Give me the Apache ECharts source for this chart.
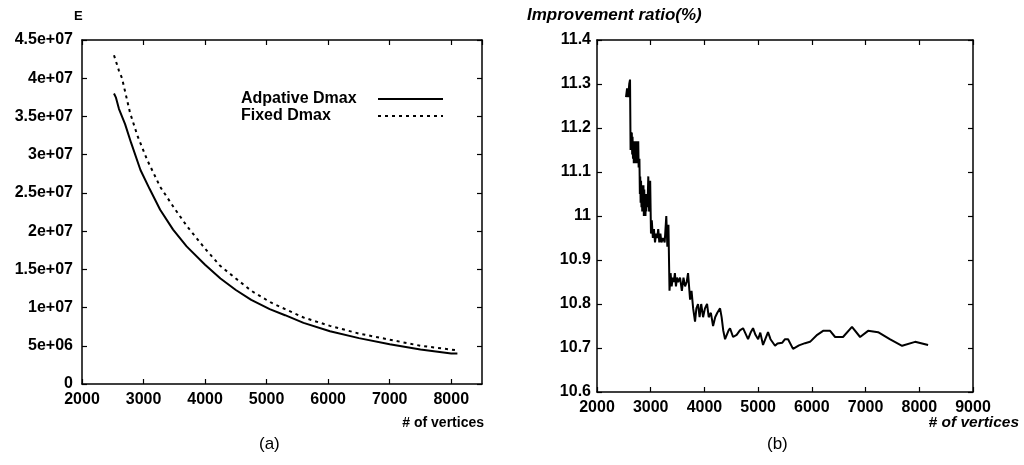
<!DOCTYPE html>
<html>
<head>
<meta charset="utf-8">
<script src="https://cdn.jsdelivr.net/npm/echarts@6/dist/echarts.min.js"></script>
<style>html,body{margin:0;padding:0;background:#fff}#c{width:1024px;height:465px}</style>
</head>
<body>
<div id="c"></div>
<script>
// ---- Data (a): E vs # of vertices ----
const adaptiveX = [2520,2550,2600,2700,2800,2950,3100,3270,3480,3700,4000,4250,4500,4750,5050,5300,5600,6030,6500,7000,7500,8000,8100];
const adaptiveE = [38.0e6,37.5e6,36.0e6,34.0e6,31.5e6,28.0e6,25.5e6,22.8e6,20.2e6,18.0e6,15.6e6,13.8e6,12.3e6,11.0e6,9.8e6,9.0e6,8.0e6,6.9e6,6.0e6,5.2e6,4.5e6,4.0e6,4.0e6];
const fixedX = [2520,2600,2650,2780,2900,3060,3270,3500,3710,4000,4240,4500,4750,5060,5300,5600,6030,6500,7000,7500,8000,8100];
const fixedE = [43.0e6,41.0e6,40.0e6,35.5e6,32.5e6,29.3e6,25.8e6,23.0e6,20.6e6,17.7e6,15.5e6,13.8e6,12.2e6,10.7e6,9.8e6,8.7e6,7.6e6,6.6e6,5.8e6,5.0e6,4.5e6,4.4e6];

// ---- Data (b): Improvement ratio (%) vs # of vertices ----
const ratioX = [2540,2560,2580,2600,2615,2625,2632,2640,2648,2655,2662,2670,2678,2685,2692,2700,2708,2715,2722,2730,2738,2745,2752,2760,2768,2775,2790,2798,2805,2812,2820,2828,2835,2842,2850,2858,2865,2872,2880,2888,2895,2902,2910,2918,2925,2940,2955,2970,2990,3005,3020,3040,3060,3080,3100,3120,3140,3160,3180,3200,3230,3260,3290,3310,3330,3350,3370,3390,3410,3430,3450,3470,3490,3510,3546,3580,3610,3640,3670,3695,3733,3760,3790,3825,3850,3881,3910,3940,3975,4010,4049,4080,4120,4161,4200,4240,4291,4320,4350,4384,4420,4450,4477,4533,4600,4660,4719,4812,4860,4905,4950,5000,5040,5091,5184,5230,5315,5360,5450,5500,5557,5650,5760,5873,5966,6100,6209,6340,6433,6580,6747,6898,7047,7233,7450,7680,7922,8164];
const ratioY = [11.27,11.29,11.27,11.30,11.31,11.15,11.19,11.16,11.19,11.14,11.18,11.13,11.17,11.12,11.16,11.13,11.17,11.12,11.16,11.13,11.17,11.12,11.16,11.12,11.17,11.11,11.13,11.05,11.09,11.03,11.08,11.02,11.07,11.01,11.05,11.02,11.07,11.00,11.06,11.01,11.05,11.00,11.04,11.01,11.05,11.02,11.09,11.01,11.08,10.96,10.99,10.95,10.97,10.94,10.96,10.95,10.97,10.94,10.96,10.94,10.95,10.94,11.00,10.93,10.98,10.83,10.87,10.84,10.86,10.85,10.87,10.84,10.86,10.85,10.86,10.83,10.86,10.84,10.85,10.87,10.81,10.83,10.79,10.76,10.79,10.80,10.77,10.80,10.77,10.79,10.80,10.77,10.78,10.75,10.77,10.78,10.79,10.77,10.74,10.72,10.72,10.74,10.745,10.725,10.73,10.74,10.745,10.72,10.735,10.745,10.73,10.72,10.735,10.707,10.736,10.72,10.705,10.71,10.712,10.72,10.72,10.698,10.706,10.711,10.714,10.73,10.739,10.739,10.725,10.725,10.748,10.725,10.739,10.736,10.72,10.705,10.714,10.707];

// ---- Tick labels ----
const xTicksA = [2000,3000,4000,5000,6000,7000,8000];
const xTicksB = [2000,3000,4000,5000,6000,7000,8000,9000];

const FONT = '"Liberation Sans", Arial, sans-serif';
const pair = (xs, ys) => xs.map((x, i) => [x, ys[i]]);
function expFmt(v) {
  if (v === 0) return '0';
  const s = v.toExponential();
  const m = s.split('e');
  const sign = m[1][0];
  let e = m[1].slice(1);
  if (e.length < 2) e = '0' + e;
  return m[0] + 'e' + sign + e;
}
const lab = { color: '#000', fontFamily: FONT, fontWeight: 'bold', fontSize: 16 };
const axLine = { show: true, onZero: false, lineStyle: { color: '#000', width: 1.5 } };
const tick = { show: true, inside: true, length: 5, lineStyle: { color: '#000', width: 1.2 } };

const chart = echarts.init(document.getElementById('c'), null, { renderer: 'canvas' });
chart.setOption({
  backgroundColor: '#fff',
  animation: false,
  grid: [
    { left: 82, top: 40, width: 400, height: 344 },
    { left: 597, top: 40, width: 376, height: 352 }
  ],
  legend: {
    orient: 'vertical', left: 236, top: 86, align: 'right', itemGap: 1,
    itemWidth: 65, itemHeight: 10,
    itemStyle: { opacity: 0 },
    formatter: name => '{t|' + name + '}',
    textStyle: {
      color: '#000', fontFamily: FONT, fontWeight: 'bold', fontSize: 16,
      rich: { t: { width: 132, align: 'left', lineHeight: 16, color: '#000', fontFamily: FONT, fontWeight: 'bold', fontSize: 16 } }
    },
    data: ['Adpative Dmax', 'Fixed Dmax']
  },
  xAxis: [
    { type: 'value', gridIndex: 0, min: 2000, max: 8500, interval: 1000, axisLine: axLine, axisTick: tick,
      axisLabel: Object.assign({ margin: 8, showMaxLabel: false, formatter: v => xTicksA.includes(v) ? String(v) : '' }, lab),
      splitLine: { show: false } },
    { type: 'value', gridIndex: 0, position: 'top', min: 2000, max: 8500, interval: 1000, axisLine: axLine, axisTick: tick,
      axisLabel: { show: false }, splitLine: { show: false } },
    { type: 'value', gridIndex: 1, min: 2000, max: 9000, interval: 1000, axisLine: axLine, axisTick: tick,
      axisLabel: Object.assign({ margin: 8, formatter: v => xTicksB.includes(v) ? String(v) : '' }, lab),
      splitLine: { show: false } },
    { type: 'value', gridIndex: 1, position: 'top', min: 2000, max: 9000, interval: 1000, axisLine: axLine, axisTick: tick,
      axisLabel: { show: false }, splitLine: { show: false } }
  ],
  yAxis: [
    { type: 'value', gridIndex: 0, min: 0, max: 45000000, interval: 5000000, axisLine: axLine, axisTick: tick,
      axisLabel: Object.assign({ margin: 9, formatter: expFmt }, lab), splitLine: { show: false } },
    { type: 'value', gridIndex: 0, position: 'right', min: 0, max: 45000000, interval: 5000000, axisLine: axLine, axisTick: tick,
      axisLabel: { show: false }, splitLine: { show: false } },
    { type: 'value', gridIndex: 1, min: 10.6, max: 11.4, interval: 0.1, axisLine: axLine, axisTick: tick,
      axisLabel: Object.assign({ margin: 6, formatter: v => String(Math.round(v * 10) / 10) }, lab), splitLine: { show: false } },
    { type: 'value', gridIndex: 1, position: 'right', min: 10.6, max: 11.4, interval: 0.1, axisLine: axLine, axisTick: tick,
      axisLabel: { show: false }, splitLine: { show: false } }
  ],
  series: [
    { name: 'Adpative Dmax', type: 'line', xAxisIndex: 0, yAxisIndex: 0, symbol: 'none',
      lineStyle: { color: '#000', width: 2 }, itemStyle: { color: '#000' }, data: pair(adaptiveX, adaptiveE) },
    { name: 'Fixed Dmax', type: 'line', xAxisIndex: 0, yAxisIndex: 0, symbol: 'none',
      lineStyle: { color: '#000', width: 2, type: [3, 4] }, itemStyle: { color: '#000' }, data: pair(fixedX, fixedE) },
    { name: 'Improvement ratio', type: 'line', xAxisIndex: 2, yAxisIndex: 2, symbol: 'none',
      lineStyle: { color: '#000', width: 2 }, itemStyle: { color: '#000' }, data: pair(ratioX, ratioY) }
  ],
  graphic: [
    { type: 'text', left: 74, top: 10, style: { text: 'E', fill: '#000', font: 'bold 13px ' + FONT } },
    { type: 'text', left: 527, top: 7, style: { text: 'Improvement ratio(%)', fill: '#000', font: 'italic bold 17px ' + FONT } },
    { type: 'text', right: 540, top: 416, style: { text: '# of vertices', fill: '#000', font: 'bold 14px ' + FONT } },
    { type: 'text', right: 5, top: 415, style: { text: '# of vertices', fill: '#000', font: 'italic bold 15.5px ' + FONT } },
    { type: 'text', left: 259, top: 436, style: { text: '(a)', fill: '#000', font: '17px ' + FONT } },
    { type: 'text', left: 767, top: 436, style: { text: '(b)', fill: '#000', font: '17px ' + FONT } }
  ]
});
</script>
</body>
</html>
